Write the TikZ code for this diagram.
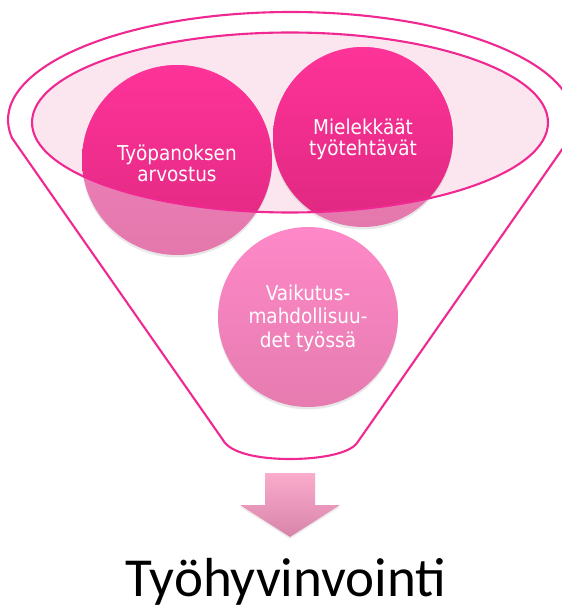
\documentclass[tikz,border=0pt]{standalone}
\usepackage{fontspec}
\setmainfont{Carlito}
\newfontfamily\circfont{DejaVu Sans Condensed}
\usetikzlibrary{shadows}
\definecolor{magline}{RGB}{240,40,145}
\definecolor{ellfill}{RGB}{251,230,239}
\definecolor{brighttop}{RGB}{255,51,153}
\definecolor{brightbot}{RGB}{222,40,128}
\definecolor{lighttop}{RGB}{242,132,192}
\definecolor{lightbot}{RGB}{228,120,172}
\definecolor{thirdtop}{RGB}{254,136,200}
\definecolor{thirdbot}{RGB}{230,124,176}
\definecolor{arrtop}{RGB}{250,172,204}
\definecolor{arrbot}{RGB}{216,132,170}
\tikzset{
  funnelline/.style={draw=magline, line width=2.1pt, line join=round},
  ball/.style={circle, inner sep=0pt, draw=none,
    drop shadow={opacity=0.18, shadow xshift=0pt, shadow yshift=-2.5pt}},
  balltext/.style={text=white, align=center, font=\circfont\fontsize{20.5}{21}\selectfont},
}
\begin{document}
\begin{tikzpicture}[x=1pt,y=-1pt]
\useasboundingbox (0,0) rectangle (561,609);
% outer funnel
\draw[funnelline] (12,138) arc[start angle=170.4, end angle=369.6, x radius=283, y radius=108]
  -- (357,443) .. controls (350,453) and (322,459) .. (290,459)
  .. controls (258,459) and (230,453) .. (223,440) -- cycle;
% inner ellipse fill
\fill[ellfill] (290,122.5) ellipse[x radius=258, y radius=90];
% circles (light)
\node[ball, minimum size=190pt, top color=lighttop, bottom color=lightbot] (c1) at (177,160) {};
\node[ball, minimum size=180pt, top color=lighttop, bottom color=lightbot] (c2) at (363,137) {};
\node[ball, minimum size=180pt, top color=thirdtop, bottom color=thirdbot] (c3) at (308,317) {};
% bright parts within ellipse
\begin{scope}
  \clip (290,122.5) ellipse[x radius=258, y radius=90];
  \shade[top color=brighttop, bottom color=brightbot] (c1.center) circle[radius=95];
  \shade[top color=brighttop, bottom color=brightbot] (c2.center) circle[radius=90];
\end{scope}
% inner ellipse outline
\draw[funnelline] (290,122.5) ellipse[x radius=258, y radius=90];
% texts
\node[balltext] (t1) at (177,163) {Työpanoksen\\arvostus};
\node[balltext] (t2) at (363,139) {Mielekkäät\\työtehtävät};
\node[balltext, font=\circfont\fontsize{20.5}{23.5}\selectfont] (t3) at (308,318) {Vaikutus-\\mahdollisuu-\\det työssä};
% arrow
\shade[top color=arrtop, bottom color=arrbot,
  drop shadow={opacity=0.15, shadow xshift=0pt, shadow yshift=-2pt}]
  (265,473) -- (315,473) -- (315,505) -- (340,505) -- (290,537) -- (240,505) -- (265,505) -- cycle;
% result
\node[anchor=base, inner sep=0pt, font=\fontsize{55}{55}\selectfont] (res) at (286,596) {Työhyvinvointi};
\end{tikzpicture}
\end{document}
